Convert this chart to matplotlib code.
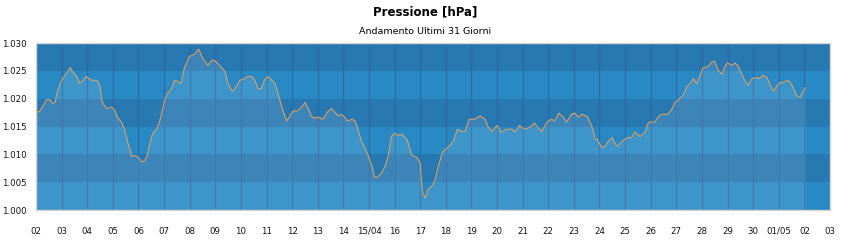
"""Pressione [hPa] - andamento ultimi 31 giorni."""

import matplotlib

matplotlib.use("Agg")
import matplotlib.pyplot as plt
import numpy as np

# hours since 02/04 00:00 and pressure readings (hPa)
hours = [
    0, 3, 6, 10, 13, 16, 18, 20, 24, 27, 30, 32, 34, 38, 41, 44, 47, 52, 57, 60,
    62, 66, 71, 74, 76, 80, 83, 86, 90, 92, 95, 99, 101, 104, 106, 109, 113, 116,
    118, 121, 123, 127, 130, 133, 136, 139, 144, 149, 152, 153, 156, 161, 165, 167,
    170, 174, 177, 180, 184, 188, 191, 196, 198, 202, 205, 208, 211, 214, 217, 221,
    224, 226, 230, 233, 235, 238, 241, 245, 249, 252, 255, 258, 261, 264, 269, 273,
    277, 280, 283, 286, 289, 292, 296, 299, 301, 305, 308, 311, 315, 317, 320, 324,
    327, 330, 333, 336, 339, 343, 346, 348, 352, 357, 360, 361, 362, 365, 367, 371,
    374, 376, 381, 386, 391, 395, 399, 402, 406, 411, 416, 421, 423, 427, 432, 436,
    441, 446, 449, 453, 458, 463, 467, 470, 474, 479, 483, 486, 490, 494, 497, 502,
    505, 508, 512, 517, 521, 524, 526, 530, 533, 536, 540, 542, 545, 549, 554, 558,
    561, 566, 571, 573, 575, 580, 583, 586, 592, 596, 599, 603, 606, 610, 613, 616,
    619, 622, 625, 627, 630, 633, 636, 639, 643, 646, 648, 652, 655, 658, 661, 664,
    667, 671, 676, 678, 681, 685, 688, 691, 694, 697, 700, 704, 706, 709, 713, 716,
    719, 721,
]
pressure = [
    1017.8, 1017.6, 1018.5, 1019.8, 1019.8, 1019.1, 1019.4, 1021.3, 1023.3, 1024.2,
    1024.9, 1025.6, 1024.9, 1024.0, 1022.7, 1023.3, 1024.0, 1023.3, 1023.3, 1022.2,
    1019.4, 1018.2, 1018.5, 1017.8, 1016.7, 1015.8, 1014.5, 1012.1, 1009.6, 1009.8,
    1009.6, 1008.7, 1008.7, 1009.6, 1011.4, 1013.6, 1014.5, 1016.0, 1017.6, 1020.0,
    1020.9, 1021.8, 1023.3, 1023.1, 1022.7, 1025.5, 1027.6, 1028.0, 1028.9, 1028.7,
    1027.3, 1026.0, 1026.9, 1026.9, 1026.4, 1025.5, 1024.9, 1022.7, 1021.3, 1022.2,
    1023.3, 1023.6, 1024.0, 1024.0, 1023.3, 1021.8, 1021.8, 1023.3, 1024.0, 1023.3,
    1022.7, 1021.4, 1018.7, 1016.9, 1016.0, 1016.9, 1017.8, 1017.8, 1018.5, 1019.3,
    1018.2, 1016.9, 1016.5, 1016.7, 1016.3, 1017.6, 1018.2, 1017.6, 1016.9, 1017.2,
    1016.7, 1016.0, 1016.3, 1016.0, 1014.9, 1012.3, 1011.2, 1009.9, 1007.8, 1005.9,
    1005.9, 1006.7, 1007.8, 1009.6, 1013.2, 1013.8, 1013.4, 1013.6, 1013.0, 1012.5,
    1009.9, 1009.4, 1008.5, 1005.4, 1003.2, 1002.1, 1003.6, 1004.3, 1005.4, 1007.2,
    1010.5, 1011.2, 1012.3, 1014.5, 1014.1, 1014.1, 1016.3, 1016.3, 1016.9, 1016.3,
    1015.1, 1014.1, 1015.2, 1014.0, 1014.5, 1014.5, 1014.0, 1015.2, 1014.5, 1014.9,
    1015.6, 1014.9, 1014.1, 1015.8, 1016.3, 1016.0, 1017.4, 1016.7, 1015.8, 1017.2,
    1017.4, 1016.7, 1017.2, 1016.7, 1014.9, 1012.7, 1012.7, 1011.2, 1011.4, 1012.3,
    1013.0, 1012.1, 1011.4, 1012.3, 1013.0, 1013.0, 1014.0, 1013.2, 1014.0, 1015.4,
    1015.8, 1015.8, 1016.7, 1017.2, 1017.2, 1018.2, 1019.4, 1020.0, 1020.5, 1022.2,
    1022.7, 1023.6, 1022.7, 1024.0, 1025.5, 1025.6, 1025.8, 1026.6, 1026.7, 1025.1,
    1024.4, 1026.0, 1026.4, 1026.0, 1026.4, 1025.8, 1024.5, 1023.3, 1022.4, 1023.6,
    1023.8, 1023.6, 1024.2, 1023.8, 1022.4, 1021.3, 1022.2, 1022.9, 1022.9, 1023.3,
    1023.1, 1022.2, 1020.5, 1020.3, 1021.4, 1022.0,
]

day_labels = [
    "02", "03", "04", "05", "06", "07", "08", "09", "10", "11", "12", "13", "14",
    "15/04", "16", "17", "18", "19", "20", "21", "22", "23", "24", "25", "26", "27",
    "28", "29", "30", "01/05", "02", "03",
]
y_ticks = [1000, 1005, 1010, 1015, 1020, 1025, 1030]
y_labels = ["1.000", "1.005", "1.010", "1.015", "1.020", "1.025", "1.030"]

BAND_DARK = "#2878b2"
BAND_LIGHT = "#2889c4"

days = np.array(hours, dtype=float) / 24.0

fig = plt.figure(figsize=(8.5, 2.4), dpi=100)
ax = fig.add_axes([36 / 850, 30 / 240, 794 / 850, 167 / 240])

for i, (lo, hi) in enumerate(zip(y_ticks[:-1], y_ticks[1:])):
    ax.axhspan(lo, hi, color=BAND_LIGHT if i % 2 == 0 else BAND_DARK, lw=0, zorder=0)

ax.set_xlim(0, len(day_labels) - 1)
ax.set_ylim(y_ticks[0], y_ticks[-1])
ax.set_xticks(range(len(day_labels)))
ax.set_xticklabels(day_labels)
ax.set_yticks(y_ticks)
ax.set_yticklabels(y_labels)
ax.tick_params(length=0, labelsize=6.2, colors="#111111")
ax.tick_params(axis="x", pad=12)
ax.tick_params(axis="y", pad=7)
ax.grid(axis="x", color="#2a6ca3", lw=0.9, zorder=1)
ax.set_axisbelow(True)

ax.fill_between(days, pressure, y_ticks[0], color="white", alpha=0.1, lw=0, zorder=2)
ax.plot(days, pressure, color="#d8a066", lw=0.8, zorder=3)

for spine in ax.spines.values():
    spine.set_color("#d6d6d6")
    spine.set_linewidth(1)

fig.text(0.5, 1 - 12 / 240, "Pressione [hPa]", ha="center", va="center",
         fontsize=8.5, fontweight="bold")
fig.text(0.5, 1 - 32 / 240, "Andamento Ultimi 31 Giorni", ha="center", va="center",
         fontsize=6.8)

fig.savefig("out.png", dpi=100)
plt.close(fig)
